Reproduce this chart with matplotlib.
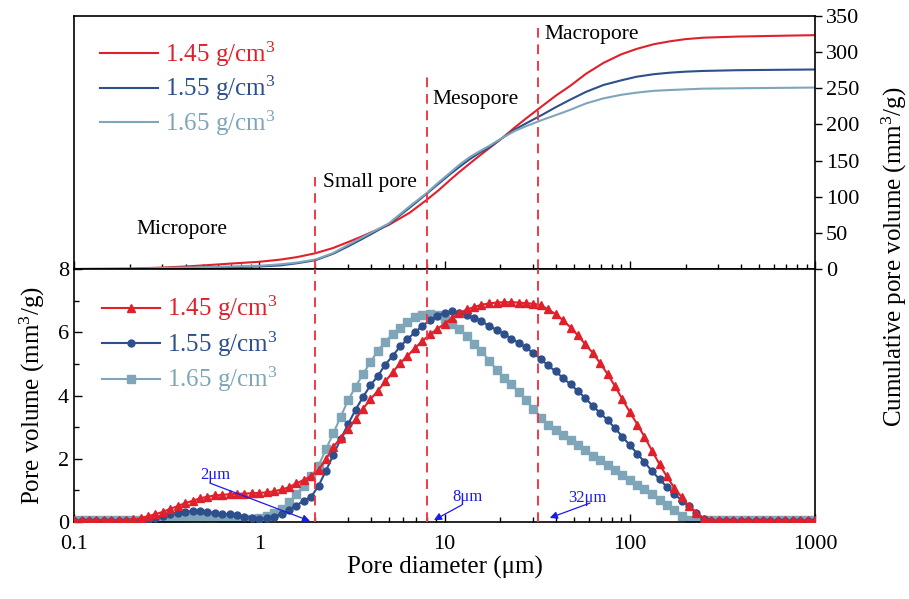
import matplotlib
matplotlib.use("Agg")
import matplotlib.pyplot as plt
from matplotlib.ticker import LogLocator, MultipleLocator, NullFormatter

plt.rcParams["font.family"] = ["Liberation Serif", "DejaVu Serif"]
plt.rcParams["mathtext.fontset"] = "custom"
plt.rcParams["mathtext.rm"] = "Liberation Serif"
plt.rcParams["mathtext.it"] = "Liberation Serif:italic"

# --- data ---
labels = ["1.45 g/cm$^3$", "1.55 g/cm$^3$", "1.65 g/cm$^3$"]

# incremental pore volume (mm3/g) vs pore diameter (um)
diameter = [
    0.1, 0.11, 0.12, 0.132, 0.145, 0.158, 0.174, 0.191, 0.209, 0.229,
    0.251, 0.275, 0.302, 0.331, 0.363, 0.398, 0.437, 0.479, 0.525, 0.575,
    0.631, 0.692, 0.759, 0.832, 0.912,
    1.0, 1.1, 1.2, 1.32, 1.45, 1.58, 1.74, 1.91, 2.09, 2.29,
    2.51, 2.75, 3.02, 3.31, 3.63, 3.98, 4.37, 4.79, 5.25, 5.75,
    6.31, 6.92, 7.59, 8.32, 9.12,
    10, 11, 12, 13.2, 14.5, 15.8, 17.4, 19.1, 20.9, 22.9,
    25.1, 27.5, 30.2, 33.1, 36.3, 39.8, 43.7, 47.9, 52.5, 57.5,
    63.1, 69.2, 75.9, 83.2, 91.2,
    100, 110, 120, 132, 145, 158, 174, 191, 209, 229,
    251, 275, 302, 331, 363, 398, 437, 479, 525, 575,
    631, 692, 759, 832, 912, 1000,
]

pv_145 = [
    0.06, 0.06, 0.06, 0.06, 0.06, 0.06, 0.06, 0.06, 0.08, 0.12,
    0.18, 0.25, 0.32, 0.42, 0.50, 0.60, 0.67, 0.75, 0.80, 0.84,
    0.86, 0.88, 0.89, 0.90, 0.91,
    0.92, 0.94, 0.97, 1.03, 1.10, 1.22, 1.33, 1.46, 1.65, 1.98,
    2.38, 2.65, 2.95, 3.25, 3.58, 3.88, 4.15, 4.45, 4.73, 5.02,
    5.25, 5.50, 5.72, 5.93, 6.10,
    6.27, 6.45, 6.60, 6.72, 6.80, 6.87, 6.91, 6.94, 6.95, 6.95,
    6.94, 6.92, 6.90, 6.86, 6.72, 6.57, 6.38, 6.15, 5.90, 5.62,
    5.35, 5.02, 4.68, 4.30, 3.88,
    3.48, 3.08, 2.70, 2.25, 1.82, 1.45, 1.08, 0.78, 0.50, 0.28,
    0.11, 0.05, 0.05, 0.05, 0.05, 0.05, 0.05, 0.05, 0.05, 0.05,
    0.05, 0.05, 0.05, 0.05, 0.05, 0.05,
]

pv_155 = [
    0.02, 0.02, 0.02, 0.02, 0.02, 0.02, 0.02, 0.02, 0.02, 0.02,
    0.06, 0.12, 0.18, 0.25, 0.30, 0.33, 0.34, 0.34, 0.32, 0.29,
    0.26, 0.24, 0.21, 0.17, 0.13,
    0.10, 0.12, 0.17, 0.26, 0.37, 0.52, 0.67, 0.80, 1.15, 1.62,
    2.12, 2.62, 3.10, 3.55, 3.95, 4.32, 4.62, 4.98, 5.25, 5.55,
    5.78, 6.00, 6.20, 6.38, 6.52,
    6.62, 6.66, 6.62, 6.55, 6.44, 6.35, 6.20, 6.08, 5.95, 5.80,
    5.67, 5.52, 5.34, 5.15, 4.95, 4.76, 4.55, 4.35, 4.14, 3.92,
    3.67, 3.45, 3.22, 2.97, 2.70,
    2.43, 2.16, 1.90, 1.60, 1.35, 1.12, 0.89, 0.68, 0.50, 0.30,
    0.11, 0.02, 0.02, 0.02, 0.02, 0.02, 0.02, 0.02, 0.02, 0.02,
    0.02, 0.02, 0.02, 0.02, 0.02, 0.02,
]

pv_165 = [
    0.06, 0.06, 0.06, 0.06, 0.06, 0.06, 0.06, 0.06, 0.06, 0.06,
    0.07, 0.08, 0.10, 0.12, 0.14, 0.15, 0.16, 0.16, 0.16, 0.15,
    0.14, 0.12, 0.11, 0.10, 0.10,
    0.14, 0.20, 0.28, 0.42, 0.62, 0.88, 1.15, 1.45, 1.78, 2.30,
    2.80, 3.33, 3.85, 4.28, 4.68, 5.05, 5.42, 5.70, 5.95, 6.15,
    6.32, 6.47, 6.55, 6.58, 6.55,
    6.42, 6.25, 6.10, 5.88, 5.63, 5.42, 5.10, 4.82, 4.55, 4.35,
    4.12, 3.85, 3.58, 3.30, 3.08, 2.90, 2.76, 2.60, 2.42, 2.28,
    2.10, 1.95, 1.80, 1.64, 1.48,
    1.32, 1.18, 1.05, 0.88, 0.70, 0.55, 0.38, 0.20, 0.05, 0.05,
    0.05, 0.05, 0.05, 0.05, 0.05, 0.05, 0.05, 0.05, 0.05, 0.05,
    0.05, 0.05, 0.05, 0.05, 0.05, 0.05,
]

# cumulative pore volume (mm3/g)
cum_diameter = [
    0.1, 0.2, 0.3, 0.4, 0.5, 0.7, 1.0, 1.3, 1.6, 2.0, 2.5, 3.0, 3.5, 4.0,
    5.0, 6.5, 8.0, 9.3, 10.7, 12, 13.7, 15.5, 17.6, 20.7, 24, 27.8, 33.5,
    40, 47.5, 58, 72, 90, 109, 135, 165, 200, 250, 378, 600, 1000,
]
cum_145 = [
    0, 0.5, 2, 3.5, 5, 7.5, 10, 13, 16.5, 21.7, 29, 37, 44, 50.5,
    61, 78, 95.5, 109, 123, 134, 146, 157, 168, 182, 196, 209, 225,
    240, 253, 270, 285, 297, 304.5, 311, 315, 318, 320, 321.5, 322.5, 323.5,
]
cum_155 = [
    0, 0, 0.5, 1, 1.5, 2.5, 3.5, 5, 8, 12, 21, 31, 40, 48,
    62, 85, 104, 118, 131, 141, 152, 161, 169, 182, 193, 202, 213,
    224, 234, 245, 254.5, 261, 266, 269.5, 271.6, 273, 274, 275, 275.5, 276,
]
cum_165 = [
    0, 0.5, 1.5, 2, 2.5, 3.5, 4.5, 6.5, 9, 13, 22, 33, 42, 50,
    63, 87, 105, 120, 133, 144, 155, 163, 171, 182, 191, 198, 206,
    213, 220, 229, 236, 241, 244, 246.5, 247.6, 248.5, 249.5, 250, 250.5, 251,
]

# pore class boundaries (um)
bounds = [2, 8, 32]
bound_labels = ["2\u03bcm", "8\u03bcm", "32\u03bcm"]
classes = ["Micropore", "Small pore", "Mesopore", "Macropore"]

colors = ["#e0202b", "#2d4f8c", "#7fa6b8"]
markers = ["^", "o", "s"]
msizes = [6.0, 5.0, 5.4]
zorders = [4, 3, 2]
dash_red = "#ee3b45"
blue_txt = "#1a1aee"

# --- figure ---
fig = plt.figure(figsize=(9.09, 5.99), dpi=100)
ax_top = fig.add_axes([0.0814, 0.5509, 0.8152, 0.4224])
ax_bot = fig.add_axes([0.0814, 0.1285, 0.8152, 0.4224])

# top: cumulative curves
for y, c, lab in zip([cum_145, cum_155, cum_165], colors, labels):
    ax_top.plot(cum_diameter, y, color=c, lw=1.5, label=lab)

ax_top.set_xscale("log")
ax_top.set_xlim(0.1, 1000)
ax_top.set_ylim(0, 350)
ax_top.yaxis.tick_right()
ax_top.yaxis.set_major_locator(MultipleLocator(50))
ax_top.tick_params(axis="y", which="major", direction="out", length=5, width=1,
                   labelsize=16, right=True, left=False, pad=3)
ax_top.tick_params(axis="x", which="both", direction="in", top=False, bottom=True,
                   labelbottom=False, width=1)
ax_top.tick_params(axis="x", which="major", length=6)
ax_top.tick_params(axis="x", which="minor", length=3.5)
ax_top.xaxis.set_major_locator(LogLocator(base=10, numticks=10))
ax_top.xaxis.set_minor_locator(LogLocator(base=10, subs=range(2, 10), numticks=10))
ax_top.xaxis.set_minor_formatter(NullFormatter())

# dashed boundaries, top panel stops under each class label
top_frac = [0.364, 0.759, 0.953]
for b, f in zip(bounds, top_frac):
    ax_top.axvline(b, ymin=0, ymax=f, color=dash_red, lw=1.4, ls=(0, (5, 3.5)))

class_x = [0.216, 2.21, 8.57, 34.8]
class_y = [54, 119, 234, 324]
for t, x, y in zip(classes, class_x, class_y):
    ax_top.text(x, y, t, fontsize=15.5, va="center", ha="left")

ax_top.legend(loc="upper left", bbox_to_anchor=(0.005, 0.995), frameon=False,
              fontsize=18, handlelength=2.3, handletextpad=0.3,
              labelspacing=0.2, labelcolor="linecolor")

ax_top.text(1.107, 0.05, "Cumulative pore volume (mm$^3$/g)", transform=ax_top.transAxes,
            rotation=90, fontsize=18, ha="center", va="center")

# bottom: incremental pore volume
for y, c, m, ms, z, lab in zip([pv_145, pv_155, pv_165], colors, markers, msizes,
                                zorders, labels):
    ax_bot.plot(diameter, y, color=c, lw=1.5, marker=m, ms=ms, mec=c, mfc=c,
                zorder=z, label=lab)

ax_bot.set_xscale("log")
ax_bot.set_xlim(0.1, 1000)
ax_bot.set_ylim(0, 8)
ax_bot.yaxis.set_major_locator(MultipleLocator(2))
ax_bot.yaxis.set_minor_locator(MultipleLocator(1))
ax_bot.xaxis.set_major_locator(LogLocator(base=10, numticks=10))
ax_bot.xaxis.set_minor_locator(LogLocator(base=10, subs=range(2, 10), numticks=10))
ax_bot.xaxis.set_minor_formatter(NullFormatter())
ax_bot.set_xticks([0.1, 1, 10, 100, 1000])
ax_bot.set_xticklabels(["0.1", "1", "10", "100", "1000"])
ax_bot.tick_params(axis="both", which="both", direction="in", top=False, right=False,
                   labelsize=16, width=1)
ax_bot.tick_params(axis="both", which="major", length=6)
ax_bot.tick_params(axis="both", which="minor", length=3.5)
ax_bot.tick_params(axis="x", pad=9)

for b in bounds:
    ax_bot.axvline(b, color=dash_red, lw=1.4, ls=(0, (5, 3.5)), zorder=5)

ax_bot.legend(loc="upper left", bbox_to_anchor=(0.008, 0.99), frameon=False,
              fontsize=18, handlelength=2.3, handletextpad=0.3,
              labelspacing=0.25, labelcolor="linecolor")

# arrows pointing at the boundaries
txt_pos = [(0.479, 1.49), (10.97, 0.79), (46.5, 0.76)]
tail_pos = [(0.542, 1.23), (12.4, 0.54), (61, 0.6)]
head_pos = [(1.88, 0.03), (8.77, 0.06), (37, 0.13)]
for t, tp, tl, hd in zip(bound_labels, txt_pos, tail_pos, head_pos):
    ax_bot.text(tp[0], tp[1], t, color=blue_txt, fontsize=12, va="center", ha="left",
                zorder=6)
    ax_bot.annotate("", xy=hd, xytext=tl,
                    arrowprops=dict(arrowstyle="-|>", color=blue_txt, lw=0.9,
                                    mutation_scale=11, shrinkA=0, shrinkB=0),
                    zorder=6)

ax_bot.set_xlabel("Pore diameter (\u03bcm)", fontsize=18, labelpad=2)
ax_bot.set_ylabel("Pore volume (mm$^3$/g)", fontsize=18, labelpad=8)

for ax in (ax_top, ax_bot):
    for s in ax.spines.values():
        s.set_linewidth(1.2)

fig.savefig("out.png", dpi=100)
